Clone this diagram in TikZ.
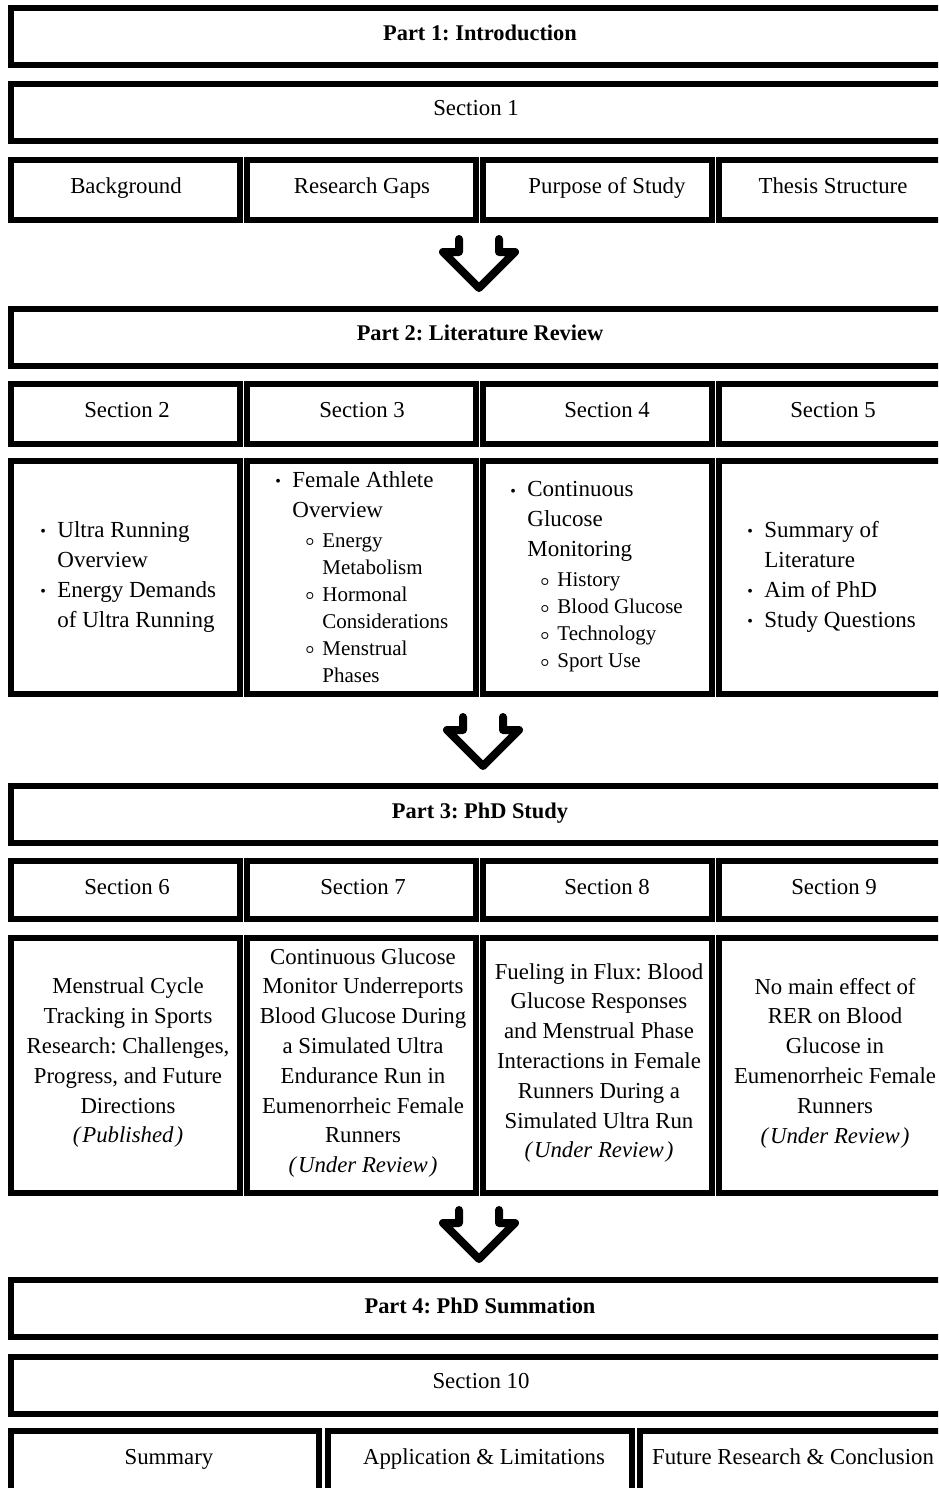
\documentclass[tikz,border=0pt]{standalone}
\usepackage{fontspec}
\setmainfont{Liberation Serif}
\frenchspacing
\newcommand\mbul{\makebox[8.5pt][l]{\raisebox{0.4pt}{\fontsize{8}{8}\selectfont •}}}
\newcommand\sbul{\makebox[8.5pt][l]{\raisebox{0.9pt}{\fontsize{7}{7}\selectfont$\boldsymbol{\circ}$}}}
\usepackage{amsmath}
\usepackage{bm}
\newcommand\ind{\hspace*{8.5pt}}
\newcommand\subind{\hspace*{6.5pt}}
\newcommand\subf[1]{{\fontsize{10.5}{13.5}\selectfont #1}}
\newcommand\bx[4]{\draw[boxline] (#1,#2) rectangle (#3,#4);}
\newcommand\chevron[1]{\draw[chev, shift={(#1)}] (-20,-13) -- (-20,0) -- (-36,0) -- (0,36) -- (36,0) -- (20,0) -- (20,-13);}
\begin{document}
\begin{tikzpicture}[x=0.5pt,y=-0.5pt,
  boxline/.style={line width=3pt, draw=black, line join=miter},
  lbl/.style={font=\fontsize{11.4}{14.9}\selectfont, inner sep=0pt, anchor=base},
  ttl/.style={font=\bfseries\fontsize{11.2}{14}\selectfont, inner sep=0pt, anchor=base},
  multi/.style={font=\fontsize{11.4}{14.9}\selectfont, inner sep=0pt, align=center},
  lst/.style={font=\fontsize{11.5}{15}\selectfont, inner sep=0pt, align=left, anchor=west},
  chev/.style={line width=4pt, line join=round, line cap=round}]
\useasboundingbox (0,0) rectangle (938,1488);
\fill[white] (0,0) rectangle (938,1488);
\clip (0,0) rectangle (938,1488);

% ---------- Part 1 ----------
\bx{11}{8}{948}{65}
\node[ttl] (p1) at (480,40) {Part 1: Introduction};
\bx{11}{84}{948}{141}
\node[lbl] (s1) at (476,115.5) {Section 1};
\foreach \l in {11,247,483,719} {\bx{\l}{160}{\l+229}{220}}
\node[lbl] (bg) at (126,193.5) {Background};
\node[lbl] (gaps) at (362,193.5) {Research Gaps};
\node[lbl] (purpose) at (607,193.5) {Purpose of Study};
\node[lbl] (thesis) at (833,193.5) {Thesis Structure};

\coordinate (a1) at (479,252);
\chevron{a1}

% ---------- Part 2 ----------
\bx{11}{309}{948}{366}
\node[ttl] (p2) at (480,340.5) {Part 2: Literature Review};
\foreach \l in {11,247,483,719} {\bx{\l}{384}{\l+229}{444}}
\node[lbl] (s2) at (127,417.5) {Section 2};
\node[lbl] (s3) at (362,417.5) {Section 3};
\node[lbl] (s4) at (607,417.5) {Section 4};
\node[lbl] (s5) at (833,417.5) {Section 5};
\foreach \l in {11,247,483,719} {\bx{\l}{461}{\l+229}{694}}
\node[lst] (l2) at (40,577) {\mbul Ultra Running\\ \ind Overview\\ \mbul Energy Demands\\ \ind of Ultra Running};
\node[lst] (l3) at (275,577) {\mbul Female Athlete\\ \ind Overview\\
  \ind\subind\sbul\subf{Energy}\\[-1.5pt]
  \ind\subind\hspace*{8.5pt}\subf{Metabolism}\\[-1.5pt]
  \ind\subind\sbul\subf{Hormonal}\\[-1.5pt]
  \ind\subind\hspace*{8.5pt}\subf{Considerations}\\[-1.5pt]
  \ind\subind\sbul\subf{Menstrual}\\[-1.5pt]
  \ind\subind\hspace*{8.5pt}\subf{Phases}};
\node[lst] (l4) at (510,577) {\mbul Continuous\\ \ind Glucose\\ \ind Monitoring\\
  \ind\subind\sbul\subf{History}\\[-1.5pt]
  \ind\subind\sbul\subf{Blood Glucose}\\[-1.5pt]
  \ind\subind\sbul\subf{Technology}\\[-1.5pt]
  \ind\subind\sbul\subf{Sport Use}};
\node[lst] (l5) at (747,577) {\mbul Summary of\\ \ind Literature\\ \mbul Aim of PhD\\ \mbul Study Questions};

\coordinate (a2) at (483,730);
\chevron{a2}

% ---------- Part 3 ----------
\bx{11}{786}{948}{843}
\node[ttl] (p3) at (480,818.5) {Part 3: PhD Study};
\foreach \l in {11,247,483,719} {\bx{\l}{861}{\l+229}{919}}
\node[lbl] (s6) at (127,894.5) {Section 6};
\node[lbl] (s7) at (363,894.5) {Section 7};
\node[lbl] (s8) at (607,894.5) {Section 8};
\node[lbl] (s9) at (834,894.5) {Section 9};
\foreach \l in {11,247,483,719} {\bx{\l}{938}{\l+229}{1193}}
\node[multi] (c6) at (128,1063) {Menstrual Cycle\\ Tracking in Sports\\ Research: Challenges,\\ Progress, and Future\\ Directions\\ \textit{(\kern1pt Published\kern1pt)}};
\node[multi] (c7) at (363,1063) {Continuous Glucose\\ Monitor Underreports\\ Blood Glucose During\\ a Simulated Ultra\\ Endurance Run in\\ Eumenorrheic Female\\ Runners\\ \textit{(\kern1pt Under Review\kern1pt)}};
\node[multi] (c8) at (599,1063) {Fueling in Flux: Blood\\ Glucose Responses\\ and Menstrual Phase\\ Interactions in Female\\ Runners During a\\ Simulated Ultra Run\\ \textit{(\kern1pt Under Review\kern1pt)}};
\node[multi] (c9) at (835,1063) {No main effect of\\ RER on Blood\\ Glucose in\\ Eumenorrheic Female\\ Runners\\ \textit{(\kern1pt Under Review\kern1pt)}};

\coordinate (a3) at (479,1223);
\chevron{a3}

% ---------- Part 4 ----------
\bx{11}{1280}{948}{1337}
\node[ttl] (p4) at (480,1313.5) {Part 4: PhD Summation};
\bx{11}{1357}{948}{1414}
\node[lbl] (s10) at (481,1388.5) {Section 10};
\bx{11}{1431}{319}{1530}
\bx{328}{1431}{632}{1530}
\bx{640}{1431}{948}{1530}
\node[lbl] (summ) at (169,1464.5) {Summary};
\node[lbl] (appl) at (484,1464.5) {Application \& Limitations};
\node[lbl] (future) at (793,1464.5) {Future Research \& Conclusion};
\end{tikzpicture}
\end{document}
